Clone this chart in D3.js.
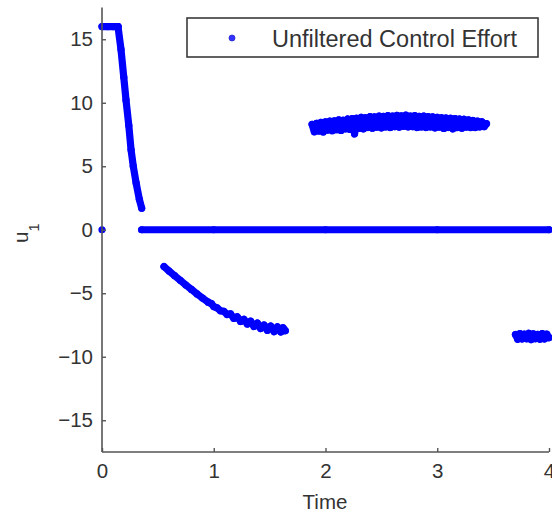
<!DOCTYPE html>
<html>
<head>
<meta charset="utf-8">
<script src="https://cdn.jsdelivr.net/npm/d3@7"></script>
<style>
  html, body { margin: 0; padding: 0; background: #fff; }
  svg { display: block; }
  text { font-family: "Liberation Sans", Arial, Helvetica, sans-serif; fill: #333; }
</style>
</head>
<body>
<svg id="chart" width="552" height="518"></svg>
<script>
// Unfiltered control effort u1 over time: each run is a list of [time, u1] samples.
const initialSample = [[0, 0]];
const saturatedRun = [[0, 16], [0.05, 16], [0.10, 16], [0.143, 16]];
const fallRun = [[0.143, 16], [0.17, 14.2], [0.195, 12.0], [0.215, 10.2], [0.24, 8.2],
  [0.26, 6.3], [0.28, 5.0], [0.305, 3.7], [0.334, 2.4], [0.355, 1.7]];
const zeroRun = [[0.355, 0], [1.0, 0], [2.0, 0], [3.0, 0], [4.0, 0]];
const negativeRun = [[0.555, -2.90], [0.60, -3.25], [0.65, -3.62], [0.70, -3.98], [0.75, -4.35],
  [0.80, -4.70], [0.85, -5.05], [0.90, -5.38], [0.95, -5.70], [0.98, -5.82], [1.00, -6.05],
  [1.03, -6.15], [1.06, -6.38], [1.09, -6.42], [1.12, -6.68], [1.15, -6.62], [1.18, -6.98],
  [1.21, -6.85], [1.24, -7.22], [1.27, -7.05], [1.30, -7.42], [1.33, -7.20], [1.36, -7.62],
  [1.39, -7.35], [1.42, -7.78], [1.45, -7.50], [1.48, -7.92], [1.51, -7.58], [1.54, -8.02],
  [1.57, -7.65], [1.60, -8.05], [1.62, -7.72], [1.64, -7.95]];
const positiveRun = [[1.88, 8.30], [1.90, 7.72], [1.92, 8.38], [1.94, 7.78], [1.96, 8.45],
  [1.98, 7.70], [2.00, 8.50], [2.02, 7.85], [2.04, 8.55], [2.06, 7.80], [2.08, 8.58],
  [2.10, 7.88], [2.12, 8.65], [2.14, 7.82], [2.16, 8.62], [2.18, 7.95], [2.20, 8.72],
  [2.22, 7.90], [2.24, 8.75], [2.26, 7.55], [2.28, 8.78], [2.30, 7.98], [2.32, 8.85],
  [2.34, 7.95], [2.36, 8.82], [2.38, 8.05], [2.40, 8.90], [2.42, 8.00], [2.44, 8.88],
  [2.46, 8.08], [2.48, 8.95], [2.50, 8.02], [2.52, 8.92], [2.54, 8.10], [2.56, 8.98],
  [2.58, 8.05], [2.60, 8.95], [2.62, 8.12], [2.64, 9.00], [2.66, 8.08], [2.68, 8.96],
  [2.70, 8.15], [2.72, 9.02], [2.74, 8.10], [2.76, 8.95], [2.78, 8.12], [2.80, 8.98],
  [2.82, 8.05], [2.84, 8.92], [2.86, 8.10], [2.88, 8.95], [2.90, 8.05], [2.92, 8.90],
  [2.94, 8.10], [2.96, 8.88], [2.98, 8.02], [3.00, 8.85], [3.02, 8.08], [3.04, 8.82],
  [3.06, 7.98], [3.08, 8.80], [3.10, 8.05], [3.12, 8.78], [3.14, 7.95], [3.16, 8.75],
  [3.18, 8.05], [3.20, 8.72], [3.22, 8.00], [3.24, 8.70], [3.26, 8.08], [3.28, 8.65],
  [3.30, 8.05], [3.32, 8.60], [3.34, 8.05], [3.36, 8.55], [3.38, 8.10], [3.40, 8.50],
  [3.42, 8.12], [3.44, 8.35]];
const finalRun = [[3.70, -8.25], [3.72, -8.62], [3.74, -8.18], [3.76, -8.60], [3.78, -8.22],
  [3.80, -8.58], [3.82, -8.15], [3.84, -8.65], [3.86, -8.20], [3.88, -8.58], [3.90, -8.24],
  [3.92, -8.62], [3.94, -8.18], [3.96, -8.60], [3.98, -8.22], [4.00, -8.50]];
const runs = [initialSample, saturatedRun, fallRun, zeroRun, negativeRun, positiveRun, finalRun];

const xTicks = [0, 1, 2, 3, 4];
const yTicks = [-15, -10, -5, 0, 5, 10, 15];
const xDomain = [0, 4];
const yDomain = [-17.5, 17.5];
const seriesName = "Unfiltered Control Effort";
const xLabel = "Time";
const yLabelBase = "u";
const yLabelSub = "1";

const svg = d3.select("#chart");
const plotLeft = 102, plotRight = 549, plotTop = 7.5, plotBottom = 452;
const x = d3.scaleLinear().domain(xDomain).range([plotLeft, plotRight]);
const y = d3.scaleLinear().domain(yDomain).range([plotBottom, plotTop]);
const markerColor = "#0000ff";
const r = 3.6;

// Samples: consecutive markers overlap into a solid trace
const marks = svg.append("g");
const line = d3.line().x(d => x(d[0])).y(d => y(d[1]));
runs.forEach(run => {
  if (run.length > 1) {
    marks.append("path").datum(run).attr("d", line)
      .attr("fill", "none").attr("stroke", markerColor)
      .attr("stroke-width", 2 * r).attr("stroke-linejoin", "round").attr("stroke-linecap", "round");
  }
  marks.selectAll(null).data(run).join("circle")
    .attr("cx", d => x(d[0])).attr("cy", d => y(d[1])).attr("r", r)
    .attr("fill", markerColor);
});

// Axes with inward ticks
const axisColor = "#555";
const xAxis = d3.axisBottom(x).tickValues(xTicks).tickSize(-4).tickPadding(11).tickFormat(d3.format("d"));
const yAxis = d3.axisLeft(y).tickValues(yTicks).tickSize(-4).tickPadding(9)
  .tickFormat(d => d < 0 ? "\u2212" + Math.abs(d) : String(d));

const gx = svg.append("g").attr("transform", `translate(0,${plotBottom})`).call(xAxis);
const gy = svg.append("g").attr("transform", `translate(${plotLeft},0)`).call(yAxis);
[gx, gy].forEach(g => {
  g.select(".domain").attr("stroke", axisColor).attr("stroke-width", 1.6);
  g.selectAll(".tick line").attr("stroke", axisColor).attr("stroke-width", 1.4);
  g.selectAll(".tick text").attr("fill", "#333").style("font-size", "20.5px")
    .style("font-family", "'Liberation Sans', Arial, sans-serif");
});
gx.select(".domain").attr("d", `M${plotLeft},0H${plotRight}`);
gy.select(".domain").attr("d", `M0,${plotTop}V${plotBottom}`);

// Axis titles: "Time" below, u with subscript 1 rotated on the left
svg.append("text").attr("x", (plotLeft + plotRight) / 2 - 0.5).attr("y", 509)
  .attr("text-anchor", "middle").style("font-size", "20.5px").text(xLabel);
svg.append("text").attr("transform", "translate(28,243) rotate(-90)")
  .attr("text-anchor", "start").style("font-size", "20.5px").text(yLabelBase);
svg.append("text").attr("transform", "translate(38.5,231.5) rotate(-90)")
  .attr("text-anchor", "start").style("font-size", "14.5px").text(yLabelSub);

// Legend
const legend = svg.append("g");
legend.append("rect").attr("x", 187).attr("y", 18).attr("width", 351).attr("height", 39)
  .attr("fill", "#fff").attr("stroke", "#3a3a3a").attr("stroke-width", 1.6);
legend.append("circle").attr("cx", 232).attr("cy", 38).attr("r", 3)
  .attr("fill", "#3333ff").attr("stroke", "#2222cc").attr("stroke-width", 0.8);
legend.append("text").attr("x", 272).attr("y", 46.5).style("font-size", "23.5px").text(seriesName);
</script>
</body>
</html>
